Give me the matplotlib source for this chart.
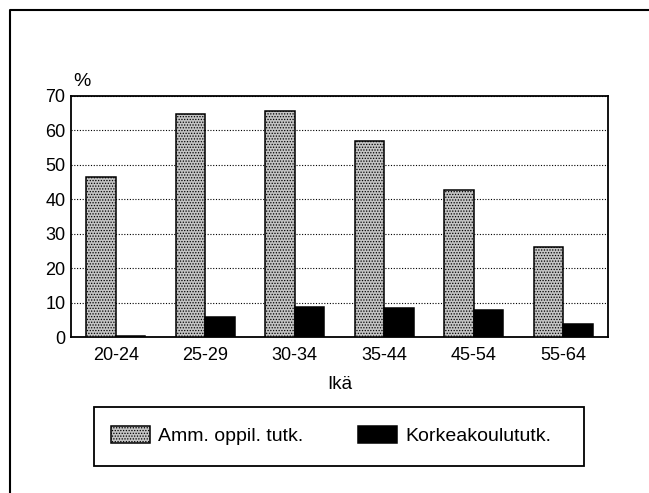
import matplotlib
matplotlib.use("Agg")
import matplotlib.pyplot as plt
from matplotlib.lines import Line2D
from matplotlib.patches import Rectangle
import numpy as np

plt.rcParams["font.family"] = ["Liberation Sans", "DejaVu Sans"]
plt.rcParams["hatch.color"] = "#555555"
plt.rcParams["hatch.linewidth"] = 0.6

age_groups = ["20-24", "25-29", "30-34", "35-44", "45-54", "55-64"]
amm_oppil = [46.6, 64.7, 65.6, 56.8, 42.8, 26.2]
korkeakoulu = [0.3, 5.9, 8.7, 8.5, 7.8, 3.9]

W, H = 649, 493
fig = plt.figure(figsize=(W / 100, H / 100), dpi=100)
ax = fig.add_axes([71 / W, 1 - 337 / H, 537 / W, 241 / H])

x = np.arange(len(age_groups))
bw = 0.33
ax.bar(x - bw / 2, amm_oppil, bw, color="#c4c4c4", hatch="......",
       edgecolor="black", linewidth=1.1, label="Amm. oppil. tutk.", zorder=3)
ax.bar(x + bw / 2, korkeakoulu, bw, color="black",
       edgecolor="black", linewidth=1.1, label="Korkeakoulututk.", zorder=3)

ax.set_xlim(-0.5, 5.5)
ax.set_ylim(0, 70)
ax.set_yticks(range(0, 71, 10))
ax.set_xticks(x)
ax.set_xticklabels(age_groups)
ax.tick_params(length=0, labelsize=13)
ax.tick_params(axis="y", pad=4)
ax.tick_params(axis="x", pad=7)
ax.yaxis.grid(True, linestyle=(0, (1, 1.5)), color="black", linewidth=0.8, zorder=1)
for s in ax.spines.values():
    s.set_linewidth(1.3)
ax.set_xlabel("Ikä", fontsize=13.5, labelpad=9)
fig.text(73 / W, 1 - 82 / H, "%", fontsize=14, ha="left", va="center")

leg = ax.legend(loc="center left", bbox_to_anchor=(103 / W, 1 - 435.5 / H),
                bbox_transform=fig.transFigure, ncol=2, fontsize=14,
                handlelength=2.0, handleheight=1.0, handletextpad=0.45,
                columnspacing=2.8, frameon=False, borderaxespad=0, borderpad=0.4)

# legend box
fig.add_artist(Rectangle((94 / W, 1 - 466 / H), 490 / W, 59 / H, transform=fig.transFigure,
                         fill=False, edgecolor="black", linewidth=1.3))

# outer frame (only top and left edges visible in the scan)
fig.add_artist(Line2D([10 / W, 10 / W, 1.0], [0.0, 1 - 10 / H, 1 - 10 / H],
                      transform=fig.transFigure, color="black", linewidth=1.5))

fig.savefig("out.png", dpi=100)
